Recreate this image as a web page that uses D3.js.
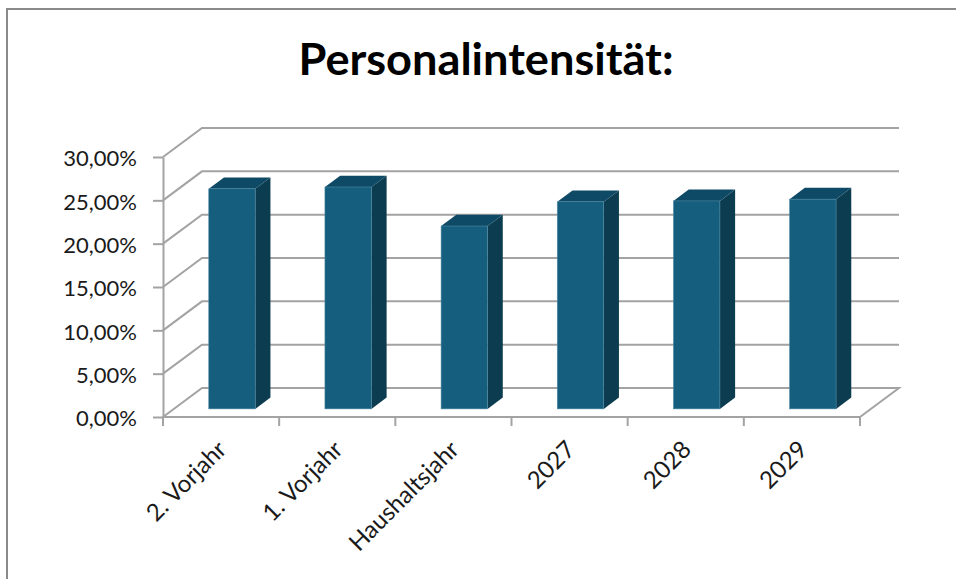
<!DOCTYPE html>
<html>
<head>
<meta charset="utf-8">
<script src="https://cdn.jsdelivr.net/npm/d3@7"></script>
<style>
  body { margin: 0; background: #fff; }
  svg { display: block; font-family: Lato, "Noto Sans", sans-serif; }
  .grid { fill: none; stroke: #a3a3a3; stroke-width: 2; }
  .axis path, .axis line { stroke: #a3a3a3; stroke-width: 2; }
  .axis text { fill: #1a1a1a; font-size: 22px; font-family: Lato, "Noto Sans", sans-serif; }
  .axis text.lbl { font-size: 24px; }
</style>
</head>
<body>
<div id="chart"></div>
<script>
var categories = ["2. Vorjahr", "1. Vorjahr", "Haushaltsjahr", "2027", "2028", "2029"];
var values = [0.254, 0.256, 0.211, 0.239, 0.240, 0.242];
var yTicks = [0, 0.05, 0.10, 0.15, 0.20, 0.25, 0.30];
var title = "Personalintensität:";

var width = 956, height = 579;

// front plane of the 3d box and the offset to the back wall
var plotLeft = 163, plotRight = 860, plotBottom = 417, plotTop = 157;
var depthX = 39, depthY = -29;
// bars sit between these depth fractions
var z0 = 0.28, z1 = 0.67;

var de = d3.formatLocale({decimal: ",", thousands: ".", grouping: [3], currency: ["", " €"]});
var pct = de.format(".2%");

var x = d3.scaleBand()
    .domain(categories)
    .range([plotLeft, plotRight])
    .paddingInner(0.6)
    .paddingOuter(0.3);

var xCat = d3.scaleBand()
    .domain(categories)
    .range([plotLeft, plotRight]);

var y = d3.scaleLinear()
    .domain([0, 0.3])
    .range([plotBottom, plotTop]);

var svg = d3.select("#chart").append("svg")
    .attr("width", width)
    .attr("height", height);

// chart border
svg.append("path")
    .attr("d", "M7," + height + "V9H" + width)
    .attr("fill", "none")
    .attr("stroke", "#8a8a8a")
    .attr("stroke-width", 2);

svg.append("text")
    .attr("x", 486)
    .attr("y", 75)
    .attr("text-anchor", "middle")
    .style("font-size", "44px")
    .style("font-weight", "bold")
    .attr("textLength", 375)
    .attr("lengthAdjust", "spacingAndGlyphs")
    .text(title);

// floor
svg.append("path")
    .attr("class", "grid")
    .attr("d", "M" + plotLeft + "," + plotBottom + "L" + (plotLeft + depthX) + "," + (plotBottom + depthY) +
        "L" + (plotRight + depthX) + "," + (plotBottom + depthY) + "L" + plotRight + "," + plotBottom);

// left wall and back wall gridlines
svg.selectAll(".gl")
    .data(yTicks.filter(function(t) { return t > 0; }))
    .enter().append("path")
    .attr("class", "grid")
    .attr("d", function(t) {
        return "M" + plotLeft + "," + y(t) + "L" + (plotLeft + depthX) + "," + (y(t) + depthY) +
            "L" + (plotRight + depthX) + "," + (y(t) + depthY);
    });

// y axis
var yAxis = svg.append("g")
    .attr("class", "axis")
    .attr("transform", "translate(" + plotLeft + ",0)")
    .call(d3.axisLeft(y).tickValues(yTicks).tickFormat(pct).tickSize(10).tickSizeOuter(0).tickPadding(16));
yAxis.selectAll("text").attr("dy", "0.4em");

// x axis: ticks at category boundaries
var xAxis = svg.append("g").attr("class", "axis");
xAxis.append("line")
    .attr("x1", plotLeft).attr("x2", plotRight)
    .attr("y1", plotBottom).attr("y2", plotBottom);
xAxis.selectAll(".tk")
    .data(categories.concat([null]))
    .enter().append("line")
    .attr("x1", function(d) { return d === null ? plotRight : xCat(d); })
    .attr("x2", function(d) { return d === null ? plotRight : xCat(d); })
    .attr("y1", plotBottom).attr("y2", plotBottom + 9);

xAxis.selectAll(".lbl")
    .data(categories)
    .enter().append("text")
    .attr("class", "lbl")
    .attr("text-anchor", "end")
    .attr("transform", function(d) {
        return "translate(" + (xCat(d) + xCat.bandwidth() / 2 + 1) + "," + (plotBottom + 28) + ") rotate(-45)";
    })
    .attr("dy", "0.35em")
    .text(function(d) { return d; });

// bars
var ddx = (z1 - z0) * depthX, ddy = (z1 - z0) * depthY;
function bx(d) { return x(d) + z0 * depthX; }
function by(v) { return y(v) + z0 * depthY; }
var bw = x.bandwidth();

var bar = svg.selectAll(".bar")
    .data(categories.map(function(c, i) { return {cat: c, value: values[i]}; }))
    .enter().append("g")
    .attr("class", "bar");

bar.append("path")
    .attr("fill", "#0c3c50")
    .attr("d", function(d) {
        var x0 = bx(d.cat) + bw, yt = by(d.value), yb = by(0);
        return "M" + x0 + "," + yt + "L" + (x0 + ddx) + "," + (yt + ddy) +
            "L" + (x0 + ddx) + "," + (yb + ddy) + "L" + x0 + "," + yb + "Z";
    });

bar.append("path")
    .attr("fill", "#0e4a66")
    .attr("d", function(d) {
        var x0 = bx(d.cat), yt = by(d.value);
        return "M" + x0 + "," + yt + "L" + (x0 + ddx) + "," + (yt + ddy) +
            "L" + (x0 + bw + ddx) + "," + (yt + ddy) + "L" + (x0 + bw) + "," + yt + "Z";
    });

bar.append("rect")
    .attr("fill", "#155e7e")
    .attr("stroke", "#4f8aa3")
    .attr("stroke-width", 0.6)
    .attr("x", function(d) { return bx(d.cat); })
    .attr("y", function(d) { return by(d.value); })
    .attr("width", bw)
    .attr("height", function(d) { return by(0) - by(d.value); });
</script>
</body>
</html>
